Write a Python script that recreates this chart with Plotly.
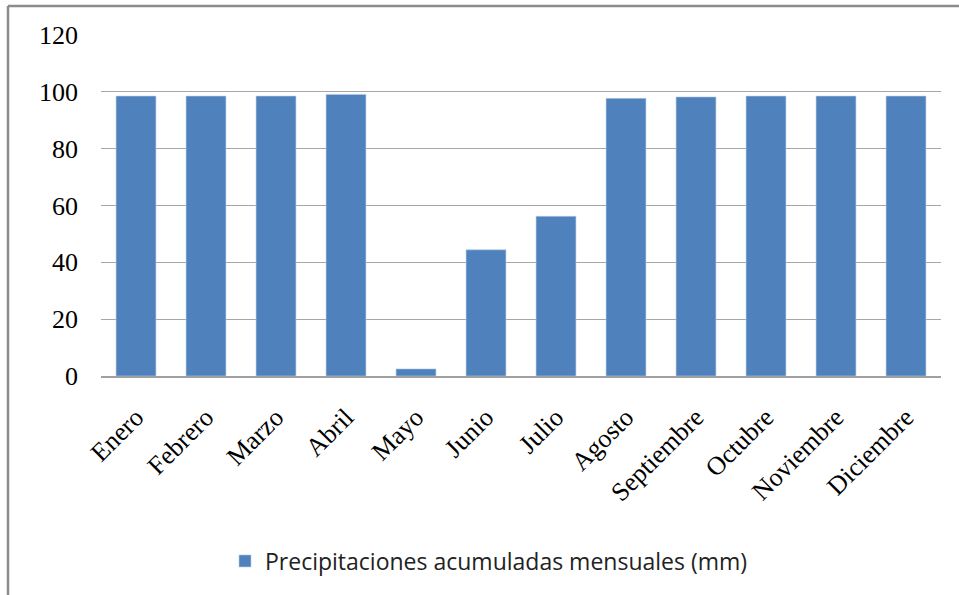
import plotly.graph_objects as go

months = ["Enero", "Febrero", "Marzo", "Abril", "Mayo", "Junio", "Julio",
          "Agosto", "Septiembre", "Octubre", "Noviembre", "Diciembre"]
precip = [98.5, 98.5, 98.5, 99.1, 2.5, 44.4, 56.2, 97.7, 98.2, 98.5, 98.5, 98.5]
series_name = "Precipitaciones acumuladas mensuales (mm)"
y_ticks = [0, 20, 40, 60, 80, 100, 120]

W, H = 959, 595
L, R, T, B = 101, 941, 35, 376

def px_x(p):
    return (p - L) / (R - L)

def px_y(p):
    return (B - p) / (B - T)

fig = go.Figure()
fig.add_trace(go.Bar(
    x=months, y=precip, name=series_name,
    marker=dict(color="#4f81bd", line=dict(color="#b9cde5", width=0.6)),
    showlegend=True,
))

fig.update_layout(
    width=W, height=H,
    margin=dict(l=L, r=W - R, t=T, b=H - B, autoexpand=False),
    paper_bgcolor="white", plot_bgcolor="white",
    bargap=0.43,
    showlegend=True,
    legend=dict(
        orientation="h", x=px_x(225), xanchor="left", y=px_y(561), yanchor="middle",
        font=dict(family="Open Sans", size=23, color="#222222"),
        bgcolor="rgba(0,0,0,0)",
    ),
    xaxis=dict(
        tickangle=-45, showgrid=False, showline=True, linecolor="#a0a0a0", linewidth=1.5,
        tickfont=dict(family="Liberation Serif", size=26, color="#000000"),
        ticks="", ticklen=0, ticklabelstandoff=14,
    ),
    yaxis=dict(
        range=[0, 120], tickvals=y_ticks, showgrid=True, gridcolor="#a6a6a6", gridwidth=1.3,
        zeroline=False, showline=False, ticks="",
        tickfont=dict(family="Liberation Serif", size=26, color="#000000"),
        ticklabelstandoff=22,
    ),
    shapes=[
        dict(type="line", xref="paper", yref="paper", x0=px_x(8), x1=px_x(8),
             y0=px_y(6), y1=px_y(620), line=dict(color="#8c8c8c", width=2.5)),
        dict(type="line", xref="paper", yref="paper", x0=px_x(8), x1=px_x(980),
             y0=px_y(6), y1=px_y(6), line=dict(color="#8c8c8c", width=2.5)),
    ],
)

fig.write_html(
    "out.html",
    config={"displayModeBar": False},
    post_script="document.body.style.margin='0';document.body.style.overflow='hidden';"
                "document.documentElement.style.overflow='hidden';",
)
